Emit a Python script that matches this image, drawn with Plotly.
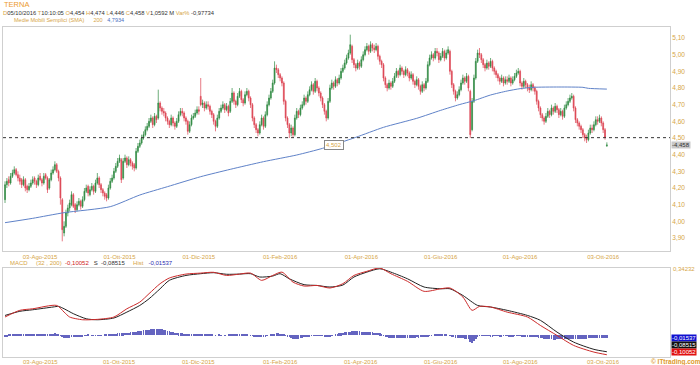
import plotly.graph_objects as go
import pandas as pd

W, H = 700, 365

# ---------------- data ----------------
dates = pd.bdate_range(end="2016-10-05", periods=327)

opens = [
4.13,4.22,4.25,4.23,4.27,4.29,4.31,4.28,4.26,4.25,
4.22,4.25,4.21,4.19,4.21,4.23,4.26,4.24,4.22,4.27,
4.25,4.23,4.28,4.26,4.20,4.25,4.29,4.31,4.34,4.30,
4.26,4.13,3.93,3.97,4.05,4.08,4.10,4.16,4.10,4.07,
4.10,4.12,4.09,4.13,4.18,4.21,4.16,4.19,4.21,4.18,
4.23,4.26,4.22,4.19,4.17,4.16,4.14,4.20,4.24,4.26,
4.30,4.33,4.36,4.37,4.26,4.36,4.38,4.34,4.37,4.35,
4.34,4.32,4.42,4.45,4.47,4.50,4.52,4.55,4.57,4.60,
4.62,4.58,4.63,4.62,4.71,4.68,4.66,4.65,4.62,4.60,
4.58,4.62,4.59,4.57,4.60,4.64,4.66,4.65,4.62,4.60,
4.54,4.58,4.62,4.63,4.65,4.67,4.75,4.70,4.71,4.68,
4.70,4.69,4.66,4.64,4.60,4.57,4.62,4.66,4.68,4.70,
4.67,4.69,4.66,4.72,4.77,4.72,4.70,4.75,4.78,4.73,
4.71,4.76,4.78,4.74,4.70,4.62,4.58,4.55,4.53,4.58,
4.62,4.57,4.64,4.70,4.74,4.78,4.83,4.92,4.91,4.88,
4.86,4.83,4.72,4.62,4.58,4.53,4.56,4.52,4.62,4.66,
4.64,4.68,4.70,4.74,4.72,4.76,4.79,4.82,4.78,4.84,
4.80,4.77,4.74,4.70,4.66,4.62,4.72,4.80,4.83,4.81,
4.85,4.83,4.86,4.90,4.92,4.95,4.98,5.01,5.05,4.97,
4.94,4.92,4.95,4.93,4.97,5.00,5.03,5.05,5.02,5.06,
5.04,5.03,5.05,4.99,4.96,4.94,4.86,4.82,4.80,4.83,
4.81,4.84,4.87,4.90,4.88,4.92,4.90,4.88,4.91,4.89,
4.86,4.88,4.84,4.82,4.85,4.81,4.78,4.82,4.80,4.84,
4.94,4.98,5.00,4.98,5.02,5.01,4.97,4.99,5.02,4.98,
5.01,5.02,4.90,4.82,4.78,4.74,4.76,4.79,4.83,4.86,
4.84,4.87,4.78,4.55,4.72,4.86,4.96,5.01,5.00,4.97,
4.94,4.92,4.95,4.93,4.96,4.92,4.90,4.88,4.86,4.84,
4.86,4.83,4.85,4.84,4.86,4.83,4.85,4.87,4.89,4.90,
4.83,4.81,4.84,4.82,4.80,4.79,4.82,4.80,4.78,4.72,
4.68,4.64,4.62,4.60,4.63,4.66,4.64,4.68,4.66,4.69,
4.67,4.64,4.66,4.63,4.68,4.70,4.72,4.74,4.75,4.68,
4.61,4.59,4.57,4.55,4.52,4.50,4.49,4.53,4.56,4.55,
4.58,4.61,4.60,4.62,4.59,4.55,4.454]

highs = [
4.24,4.26,4.27,4.29,4.31,4.33,4.32,4.30,4.28,4.26,
4.27,4.26,4.22,4.23,4.25,4.27,4.27,4.25,4.28,4.29,
4.26,4.29,4.29,4.27,4.26,4.31,4.33,4.36,4.35,4.31,
4.27,4.14,4.00,4.07,4.10,4.13,4.18,4.17,4.11,4.12,
4.14,4.13,4.15,4.20,4.22,4.22,4.21,4.23,4.22,4.25,
4.29,4.27,4.23,4.20,4.18,4.17,4.22,4.26,4.28,4.32,
4.35,4.38,4.40,4.38,4.38,4.40,4.39,4.39,4.38,4.36,
4.35,4.44,4.47,4.49,4.52,4.54,4.57,4.59,4.62,4.64,
4.63,4.65,4.64,4.79,4.72,4.69,4.68,4.66,4.63,4.61,
4.64,4.63,4.60,4.62,4.66,4.68,4.68,4.66,4.63,4.61,
4.60,4.64,4.65,4.67,4.69,4.69,4.86,4.73,4.72,4.72,
4.72,4.70,4.67,4.65,4.61,4.64,4.68,4.70,4.72,4.71,
4.71,4.70,4.74,4.80,4.78,4.73,4.77,4.80,4.79,4.74,
4.78,4.80,4.79,4.75,4.71,4.63,4.59,4.56,4.60,4.64,
4.63,4.66,4.72,4.76,4.80,4.85,4.96,4.94,4.92,4.89,
4.87,4.84,4.73,4.63,4.59,4.58,4.57,4.64,4.68,4.67,
4.70,4.72,4.76,4.75,4.78,4.81,4.84,4.83,4.86,4.85,
4.81,4.78,4.75,4.71,4.67,4.74,4.82,4.85,4.84,4.87,
4.86,4.88,4.92,4.94,4.97,5.00,5.03,5.12,5.06,4.98,
4.95,4.97,4.96,4.99,5.02,5.05,5.07,5.06,5.08,5.07,
5.06,5.07,5.06,5.00,4.97,4.95,4.87,4.83,4.85,4.84,
4.86,4.89,4.92,4.91,4.94,4.93,4.91,4.93,4.92,4.90,
4.90,4.89,4.85,4.87,4.86,4.82,4.84,4.83,4.86,4.96,
5.00,5.02,5.01,5.04,5.04,5.02,5.01,5.04,5.03,5.03,
5.05,5.03,4.91,4.83,4.79,4.78,4.81,4.85,4.88,4.87,
4.89,4.88,4.79,4.74,4.88,4.98,5.03,5.04,5.01,4.98,
4.95,4.97,4.96,4.98,4.97,4.93,4.91,4.89,4.87,4.88,
4.87,4.87,4.87,4.88,4.87,4.87,4.89,4.91,4.92,4.91,
4.84,4.86,4.85,4.83,4.82,4.84,4.83,4.81,4.79,4.73,
4.69,4.65,4.63,4.65,4.68,4.67,4.70,4.69,4.71,4.70,
4.68,4.68,4.67,4.70,4.72,4.74,4.76,4.77,4.76,4.69,
4.62,4.60,4.58,4.56,4.53,4.52,4.55,4.58,4.58,4.60,
4.63,4.63,4.64,4.63,4.60,4.56,4.474]

lows = [
4.11,4.20,4.21,4.22,4.26,4.28,4.27,4.24,4.22,4.20,
4.21,4.18,4.17,4.18,4.20,4.22,4.22,4.20,4.21,4.24,
4.21,4.22,4.25,4.17,4.19,4.24,4.28,4.30,4.29,4.24,
4.10,3.88,3.91,3.96,4.03,4.06,4.09,4.08,4.05,4.06,
4.09,4.07,4.08,4.12,4.17,4.15,4.15,4.18,4.16,4.17,
4.22,4.20,4.17,4.15,4.13,4.12,4.13,4.19,4.23,4.25,
4.29,4.32,4.35,4.23,4.25,4.35,4.32,4.33,4.33,4.31,
4.30,4.31,4.41,4.44,4.46,4.49,4.51,4.54,4.56,4.59,
4.56,4.57,4.59,4.61,4.66,4.64,4.63,4.60,4.58,4.56,
4.57,4.57,4.55,4.56,4.59,4.63,4.63,4.60,4.58,4.52,
4.53,4.57,4.61,4.62,4.64,4.64,4.69,4.68,4.66,4.67,
4.67,4.64,4.62,4.58,4.54,4.56,4.61,4.65,4.67,4.65,
4.66,4.63,4.65,4.71,4.70,4.68,4.69,4.74,4.71,4.69,
4.70,4.75,4.72,4.68,4.60,4.56,4.53,4.51,4.52,4.57,
4.55,4.56,4.63,4.69,4.73,4.77,4.82,4.89,4.86,4.84,
4.81,4.70,4.60,4.56,4.50,4.51,4.50,4.51,4.61,4.62,
4.63,4.67,4.69,4.70,4.71,4.75,4.78,4.76,4.77,4.78,
4.75,4.72,4.68,4.64,4.60,4.61,4.71,4.79,4.79,4.80,
4.81,4.82,4.85,4.89,4.91,4.94,4.97,5.00,4.95,4.92,
4.90,4.91,4.91,4.92,4.96,4.99,5.02,5.00,5.01,5.02,
5.01,5.02,4.97,4.94,4.92,4.84,4.80,4.78,4.79,4.79,
4.80,4.83,4.86,4.86,4.87,4.88,4.86,4.87,4.87,4.84,
4.85,4.82,4.80,4.81,4.79,4.76,4.77,4.78,4.79,4.83,
4.93,4.97,4.96,4.97,4.99,4.95,4.96,4.98,4.96,4.97,
5.00,4.88,4.80,4.76,4.72,4.73,4.75,4.78,4.82,4.82,
4.83,4.78,4.50,4.54,4.71,4.85,4.95,4.98,4.95,4.92,
4.90,4.91,4.91,4.92,4.90,4.88,4.86,4.84,4.82,4.83,
4.81,4.82,4.82,4.83,4.81,4.82,4.84,4.86,4.88,4.81,
4.79,4.80,4.80,4.78,4.77,4.78,4.78,4.76,4.70,4.66,
4.62,4.60,4.58,4.59,4.62,4.62,4.63,4.64,4.65,4.65,
4.62,4.63,4.61,4.62,4.67,4.69,4.71,4.73,4.66,4.59,
4.57,4.55,4.53,4.50,4.48,4.47,4.48,4.52,4.53,4.54,
4.57,4.58,4.59,4.57,4.53,4.49,4.446]

closes = [
4.22,4.24,4.23,4.27,4.29,4.31,4.28,4.26,4.24,4.22,
4.25,4.20,4.19,4.21,4.23,4.25,4.24,4.22,4.26,4.25,
4.23,4.27,4.26,4.19,4.25,4.29,4.31,4.34,4.30,4.26,
4.14,3.95,3.97,4.05,4.08,4.11,4.16,4.09,4.07,4.10,
4.12,4.09,4.13,4.18,4.20,4.17,4.19,4.21,4.18,4.23,
4.26,4.22,4.19,4.17,4.15,4.14,4.20,4.24,4.26,4.30,
4.33,4.36,4.38,4.25,4.36,4.38,4.34,4.37,4.35,4.33,
4.32,4.42,4.45,4.47,4.50,4.52,4.55,4.57,4.60,4.62,
4.58,4.63,4.61,4.71,4.68,4.66,4.65,4.62,4.60,4.58,
4.62,4.59,4.57,4.60,4.64,4.66,4.65,4.62,4.60,4.54,
4.58,4.62,4.63,4.65,4.67,4.66,4.70,4.71,4.68,4.70,
4.69,4.66,4.64,4.60,4.57,4.62,4.66,4.68,4.70,4.67,
4.69,4.65,4.72,4.77,4.72,4.70,4.75,4.78,4.73,4.71,
4.76,4.78,4.74,4.70,4.62,4.58,4.55,4.53,4.58,4.62,
4.57,4.64,4.70,4.74,4.78,4.83,4.92,4.91,4.88,4.86,
4.83,4.72,4.62,4.58,4.53,4.56,4.52,4.62,4.66,4.64,
4.68,4.70,4.74,4.72,4.76,4.79,4.82,4.78,4.84,4.80,
4.77,4.74,4.70,4.66,4.62,4.72,4.80,4.83,4.81,4.85,
4.83,4.86,4.90,4.92,4.95,4.98,5.01,5.06,4.97,4.94,
4.92,4.95,4.93,4.97,5.00,5.03,5.05,5.02,5.06,5.04,
5.03,5.05,4.99,4.96,4.94,4.86,4.82,4.80,4.83,4.81,
4.84,4.87,4.90,4.88,4.92,4.90,4.88,4.91,4.89,4.86,
4.88,4.84,4.82,4.85,4.81,4.78,4.82,4.80,4.84,4.94,
4.98,5.00,4.98,5.02,5.01,4.97,4.99,5.02,4.98,5.01,
5.03,4.90,4.82,4.78,4.74,4.76,4.79,4.83,4.86,4.84,
4.87,4.80,4.52,4.72,4.86,4.96,5.01,5.00,4.97,4.94,
4.92,4.95,4.93,4.96,4.92,4.90,4.88,4.86,4.84,4.86,
4.83,4.85,4.84,4.86,4.83,4.85,4.87,4.89,4.90,4.83,
4.81,4.84,4.82,4.80,4.79,4.82,4.80,4.78,4.72,4.68,
4.64,4.62,4.60,4.63,4.66,4.64,4.68,4.66,4.69,4.67,
4.64,4.66,4.63,4.68,4.70,4.72,4.74,4.75,4.68,4.61,
4.59,4.57,4.55,4.52,4.50,4.49,4.53,4.56,4.55,4.58,
4.61,4.60,4.62,4.59,4.55,4.502,4.458]

# 200-day simple moving average, read at selected sessions
sma_session = [0, 15, 32, 57, 73, 88, 106, 122, 140, 158, 172, 190, 205, 223, 236, 246,
               254, 263, 272, 279, 286, 300, 313, 316, 326]
sma_value = [3.992, 4.018, 4.052, 4.088, 4.158, 4.208, 4.268, 4.312, 4.358, 4.398, 4.438,
             4.504, 4.564, 4.618, 4.666, 4.700, 4.724, 4.758, 4.782, 4.796, 4.804, 4.806,
             4.804, 4.798, 4.7934]

# MACD (32, 200) line and signal line, read at selected sessions
macd_session = [0, 8, 15, 28, 32, 35, 42, 50, 59, 66, 73, 78, 84, 89, 98, 106, 113, 120,
                127, 133, 139, 145, 150, 156, 162, 169, 176, 183, 189, 196, 203, 209, 218,
                227, 236, 241, 248, 253, 257, 263, 272, 283, 290, 299, 308, 319, 326]
macd_value = [0.092, 0.126, 0.134, 0.151, 0.117, 0.092, 0.078, 0.080, 0.092, 0.134, 0.168,
              0.211, 0.262, 0.291, 0.311, 0.316, 0.320, 0.304, 0.311, 0.316, 0.279, 0.304,
              0.321, 0.270, 0.250, 0.253, 0.240, 0.262, 0.304, 0.325, 0.342, 0.313, 0.274,
              0.223, 0.236, 0.240, 0.194, 0.126, 0.146, 0.143, 0.117, 0.092, 0.049, -0.002,
              -0.053, -0.087, -0.10052]
signal_session = [0, 8, 15, 26, 29, 32, 37, 44, 50, 59, 66, 73, 78, 84, 89, 98, 106, 113,
                  120, 127, 133, 138, 145, 149, 154, 162, 169, 176, 183, 189, 196, 203, 209,
                  218, 227, 236, 241, 248, 256, 263, 272, 283, 290, 299, 308, 319, 326]
signal_value = [0.100, 0.121, 0.129, 0.143, 0.146, 0.134, 0.109, 0.083, 0.078, 0.087, 0.117,
                0.151, 0.185, 0.236, 0.279, 0.304, 0.313, 0.318, 0.310, 0.311, 0.313, 0.296,
                0.301, 0.313, 0.287, 0.257, 0.253, 0.245, 0.255, 0.296, 0.321, 0.338, 0.321,
                0.287, 0.245, 0.236, 0.236, 0.202, 0.151, 0.143, 0.126, 0.100, 0.075, 0.015,
                -0.036, -0.073, -0.08515]

hist = [
-0.012,-0.008,
0.004,0.005,0.005,0.004,0.005,0.004,0.003,
0.002,0.002,0.001,0.002,0.003,0.003,
0.004,0.005,0.005,0.004,0.005,0.006,0.005,0.006,0.006,0.005,0.006,0.007,0.008,0.006,
0.002,-0.004,
-0.010,-0.013,-0.014,-0.014,-0.013,-0.012,-0.012,-0.011,-0.010,-0.010,-0.008,-0.006,
-0.003,-0.001,0.001,0.000,-0.002,-0.003,-0.004,-0.004,-0.003,-0.002,0.000,0.001,0.002,0.003,
0.004,0.005,0.006,0.007,0.008,0.009,0.008,0.010,0.011,0.012,0.013,0.014,0.015,0.016,0.017,0.019,
0.021,0.023,0.025,0.026,0.027,0.028,0.029,0.030,0.030,0.031,0.031,0.030,0.029,0.027,0.025,0.022,
0.019,0.017,0.015,0.013,0.012,0.010,0.009,
0.008,0.007,0.006,0.006,0.005,0.005,0.004,0.004,0.004,0.003,
0.003,0.003,0.002,0.002,0.002,0.001,0.001,0.000,
-0.001,0.000,0.001,-0.001,0.000,-0.001,0.000,0.001,0.001,0.002,0.002,
0.002,0.003,0.003,0.002,0.002,0.001,0.001,0.000,-0.002,-0.004,
-0.006,-0.008,-0.009,-0.010,-0.010,-0.009,-0.007,-0.004,
0.000,0.003,0.005,0.007,0.008,0.008,0.006,0.004,0.001,
-0.004,-0.008,-0.012,-0.015,-0.018,-0.019,-0.019,-0.018,-0.016,-0.014,-0.011,
-0.008,-0.006,-0.005,-0.004,-0.003,-0.003,-0.002,-0.002,-0.003,
-0.004,-0.005,-0.006,-0.006,-0.005,-0.003,0.000,
0.003,0.006,0.008,0.010,0.012,0.014,0.015,0.017,0.018,
0.019,0.020,0.020,0.019,0.019,0.018,0.017,0.017,0.016,0.015,0.015,0.014,0.013,0.012,0.011,0.008,
0.003,-0.003,-0.008,
-0.011,-0.013,-0.014,-0.015,-0.015,-0.016,-0.015,-0.015,-0.014,-0.014,-0.015,-0.014,-0.013,
-0.013,-0.014,-0.013,-0.012,-0.013,-0.012,-0.011,-0.010,-0.008,-0.006,-0.004,-0.002,0.000,
0.001,0.002,0.002,0.001,0.002,0.001,0.001,0.000,-0.002,-0.005,
-0.010,-0.013,-0.015,-0.016,-0.016,-0.017,-0.018,-0.019,-0.022,-0.035,-0.040,-0.030,-0.018,-0.010,-0.004,
-0.002,-0.003,-0.003,-0.004,-0.004,-0.005,-0.005,-0.004,-0.004,-0.004,-0.005,-0.005,-0.004,-0.004,
-0.004,-0.005,-0.005,-0.005,-0.004,-0.004,-0.003,-0.004,-0.005,-0.006,-0.006,-0.006,-0.007,-0.007,
-0.008,-0.009,-0.011,-0.013,
-0.015,-0.017,-0.019,-0.020,-0.021,-0.022,-0.022,-0.023,-0.023,-0.022,-0.022,-0.021,-0.021,-0.020,-0.020,
-0.019,-0.019,-0.018,-0.018,-0.019,-0.020,-0.020,-0.019,-0.019,-0.018,-0.018,-0.017,-0.017,-0.017,
-0.016,-0.016,-0.016,-0.015,-0.015,-0.015,-0.015,-0.01537]

date_ticks = ["2015-08-03", "2015-10-01", "2015-12-01", "2016-02-01",
              "2016-04-01", "2016-06-01", "2016-08-01", "2016-10-03"]
date_labels = ["03-Ago-2015", "01-Ott-2015", "01-Dic-2015", "01-Feb-2016",
               "01-Apr-2016", "01-Giu-2016", "01-Ago-2016", "03-Ott-2016"]
price_ticks = [3.9, 4.0, 4.1, 4.2, 4.3, 4.4, 4.5, 4.6, 4.7, 4.8, 4.9, 5.0, 5.1]
price_labels = ["3,90", "4,00", "4,10", "4,20", "4,30", "4,40", "4,50",
                "4,60", "4,70", "4,80", "4,90", "5,00", "5,10"]

prev_close = 4.502
last_close = 4.458
macd_top = 0.34232

# ---------------- styling ----------------
FONT = "Arial, Liberation Sans, sans-serif"
GOLD = "#d6a546"
DARK = "#333333"
FRAME = "#cfcfcf"

sessions = list(range(len(closes)))
tick_sessions = [int(dates.get_loc(pd.Timestamp(d))) for d in date_ticks]
hist_sessions = list(range(len(hist)))


def py(ypx):
    return 1 - ypx / H


def px(xpx):
    return xpx / W


fig = go.Figure()

fig.add_trace(go.Candlestick(
    x=sessions, open=opens, high=highs, low=lows, close=closes,
    increasing=dict(line=dict(color="#2f8a42", width=0.7), fillcolor="#2f8a42"),
    decreasing=dict(line=dict(color="#dc4352", width=0.7), fillcolor="#dc4352"),
    whiskerwidth=0, showlegend=False, xaxis="x", yaxis="y", hoverinfo="skip"))

fig.add_trace(go.Scatter(
    x=sma_session, y=sma_value, mode="lines",
    line=dict(color="#5f82c8", width=1, shape="spline", smoothing=0.6),
    showlegend=False, xaxis="x", yaxis="y", hoverinfo="skip"))

fig.add_trace(go.Bar(
    x=hist_sessions, y=hist, marker=dict(color="#6464c0", line=dict(width=0)),
    width=0.32, showlegend=False, xaxis="x2", yaxis="y2", hoverinfo="skip"))

fig.add_trace(go.Scatter(
    x=signal_session, y=signal_value, mode="lines",
    line=dict(color="#222222", width=1, shape="spline", smoothing=0.7),
    showlegend=False, xaxis="x2", yaxis="y2", hoverinfo="skip"))

fig.add_trace(go.Scatter(
    x=macd_session, y=macd_value, mode="lines",
    line=dict(color="#cc2b2b", width=1, shape="spline", smoothing=0.7),
    showlegend=False, xaxis="x2", yaxis="y2", hoverinfo="skip"))

xdom = [px(3), px(670)]
xr = [-1.1, 360.2]
common_x = dict(domain=xdom, range=xr, tickvals=tick_sessions,
                showline=True, mirror=True,
                linecolor=FRAME, linewidth=1, ticks="", showgrid=False, zeroline=False,
                fixedrange=True, automargin=False)

fig.update_layout(
    width=W, height=H, margin=dict(l=0, r=0, t=0, b=0),
    paper_bgcolor="white", plot_bgcolor="white",
    font=dict(family=FONT, size=6, color=DARK),
    xaxis=dict(anchor="y", rangeslider=dict(visible=False), ticktext=date_labels,
               tickfont=dict(size=6, color=GOLD, family=FONT), **common_x),
    xaxis2=dict(anchor="y2", showticklabels=False, **common_x),
    yaxis=dict(domain=[py(251), py(27)], range=[3.822, 5.166], side="right",
               tickvals=price_ticks, ticktext=price_labels,
               tickfont=dict(size=6.5, color=GOLD, family=FONT),
               showline=True, mirror=True, linecolor=FRAME, linewidth=1, ticks="",
               showgrid=False, zeroline=False, automargin=False, anchor="x",
               fixedrange=True),
    yaxis2=dict(domain=[py(357), py(268)], range=[-0.112, 0.342], side="right",
                showticklabels=False, showline=True, mirror=True, linecolor=FRAME,
                linewidth=1, ticks="", showgrid=False, zeroline=False,
                automargin=False, anchor="x2", fixedrange=True),
    bargap=0,
)

# previous close dashed line
fig.add_shape(type="line", xref="x domain", yref="y", x0=0, x1=1, y0=prev_close, y1=prev_close,
              line=dict(color="#333333", width=1, dash="3px,3px"))

ann = []


def txt(xpx, ypx, s, color=DARK, size=6.0, **kw):
    d = dict(xref="paper", yref="paper", x=px(xpx), y=py(ypx), text=s, showarrow=False,
             xanchor="left", yanchor="middle", font=dict(size=size, color=color, family=FONT))
    d.update(kw)
    ann.append(d)


def g(s):
    return "<span style='color:%s'>%s</span>" % (GOLD, s)


# header
txt(2, 4.5, "TERNA", color="#ec9a2e", size=7.5)
header = (g("D") + "05/10/2016 " + g("T") + "10:10:05 " + g("O") + "4,454 " + g("H") + "4,474 "
          + g("L") + "4,446 " + g("C") + "4,458 " + g("V") + "1,0592 M " + g("Var%") + " -0,97734")
txt(1, 13.0, header, color=DARK, size=5.8)
txt(12, 20.0, g("Medie Mobili Semplici (SMA)") + "&nbsp;&nbsp;&nbsp;&nbsp;&nbsp; " + g("200")
    + "&nbsp;&nbsp; <span style='color:#4b6fc0'>4,7934</span>", size=5.5)

# MACD legend
legend = (g("MACD") + "&nbsp;&nbsp;&nbsp;&nbsp; " + g("(32 , 200)") + "&nbsp; "
          + "<span style='color:#d02020'>-0,10052</span>&nbsp;&nbsp; S&nbsp; -0,08515&nbsp;&nbsp;&nbsp;&nbsp; "
          + g("Hist") + "&nbsp;&nbsp; <span style='color:#2a2ab0'>-0,01537</span>")
txt(8, 262.5, legend, size=6.0)

# MACD date labels (bottom axis)
for s, lab in zip(tick_sessions, date_labels):
    ann.append(dict(xref="x2", yref="paper", x=s, y=py(361.5), text=lab, showarrow=False,
                    xanchor="center", yanchor="middle",
                    font=dict(size=6, color=GOLD, family=FONT)))

# MACD top value
txt(671, 268.5, "0,34232", color=GOLD, size=6)

# price tag for last close
ann.append(dict(xref="paper", yref="y", x=px(671), y=last_close, text="-4,458", showarrow=False,
                xanchor="left", yanchor="middle", bgcolor="#c9c9c9", borderpad=0,
                font=dict(size=6, color=DARK, family=FONT)))

# previous close box
ann.append(dict(xref="x", yref="y", x=178, y=prev_close, yshift=-7, text="4,502", showarrow=False,
                xanchor="center", yanchor="middle", bgcolor="white", bordercolor="#888888",
                borderwidth=1, borderpad=1, font=dict(size=6, color=GOLD, family=FONT)))

# MACD value tags
for ypx, s, bg in [(338, "-0,01537", "#1010d0"), (345, "-0,08515", "#111111"),
                   (352, "-0,10052", "#e01010")]:
    ann.append(dict(xref="paper", yref="paper", x=px(671), y=py(ypx), text=s, showarrow=False,
                    xanchor="left", yanchor="middle", bgcolor=bg, borderpad=0,
                    font=dict(size=6, color="white", family=FONT)))

txt(649, 361.5, "<b>© ITtrading.com</b>", color="#e09a2a", size=6.5)

fig.update_layout(annotations=ann)

fig.write_html("out.html", config={"displayModeBar": False},
               post_script="document.body.style.margin='0';document.body.style.overflow='hidden';")
